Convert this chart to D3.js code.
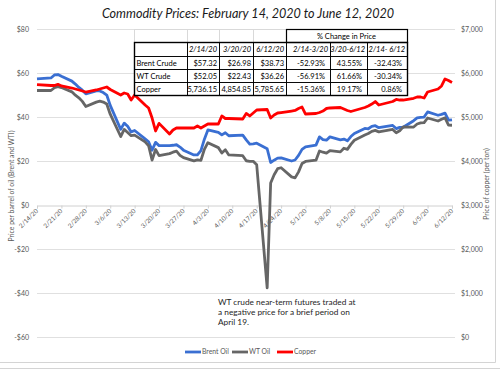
<!DOCTYPE html>
<html>
<head>
<meta charset="utf-8">
<script src="https://cdnjs.cloudflare.com/ajax/libs/d3/7.8.5/d3.min.js"></script>
<style>
  body { margin: 0; background: #fff; }
  svg { display: block; font-family: Lato, "Open Sans", sans-serif; }
</style>
</head>
<body>
<svg></svg>
<script>
// trading days shown on the chart
const dates = [
  "2/14/20","2/18/20","2/19/20","2/20/20","2/21/20","2/24/20","2/25/20","2/26/20","2/27/20","2/28/20",
  "3/2/20","3/3/20","3/4/20","3/5/20","3/6/20","3/9/20","3/10/20","3/11/20","3/12/20","3/13/20",
  "3/16/20","3/17/20","3/18/20","3/19/20","3/20/20","3/23/20","3/24/20","3/25/20","3/26/20","3/27/20",
  "3/30/20","3/31/20","4/1/20","4/2/20","4/3/20","4/6/20","4/7/20","4/8/20","4/9/20",
  "4/13/20","4/14/20","4/15/20","4/16/20","4/17/20","4/20/20","4/21/20","4/22/20","4/23/20","4/24/20",
  "4/27/20","4/28/20","4/29/20","4/30/20","5/1/20","5/4/20","5/5/20","5/6/20","5/7/20","5/8/20",
  "5/11/20","5/12/20","5/13/20","5/14/20","5/15/20","5/18/20","5/19/20","5/20/20","5/21/20","5/22/20",
  "5/26/20","5/27/20","5/28/20","5/29/20","6/1/20","6/2/20","6/3/20","6/4/20","6/5/20",
  "6/8/20","6/9/20","6/10/20","6/11/20","6/12/20"
];

// $ per barrel
const brent = [
  57.32,57.75,59.12,59.31,58.50,56.30,54.95,53.43,52.18,50.52,
  51.90,51.86,51.13,49.99,45.27,34.36,37.22,35.79,33.22,33.85,
  30.05,28.73,24.88,28.47,26.98,27.03,27.15,27.39,26.34,24.93,
  22.76,22.74,24.74,29.94,34.11,33.05,31.87,32.84,31.48,
  31.74,29.60,27.69,27.82,28.08,25.57,19.33,20.37,21.33,21.44,
  19.99,20.46,22.54,25.27,26.44,27.20,30.97,29.72,29.46,30.97,
  29.63,29.98,29.19,31.13,32.50,34.81,34.65,35.75,36.06,35.13,
  36.17,34.74,35.29,35.33,38.32,39.57,39.79,39.99,42.30,
  40.80,41.18,41.73,38.55,38.73
];

const wti = [
  52.05,52.05,53.29,53.78,53.38,51.43,49.90,48.73,47.09,44.76,
  46.75,47.18,46.78,45.90,41.28,31.13,34.36,32.98,31.50,31.73,
  28.70,26.95,20.37,25.22,22.43,23.36,24.01,24.49,22.60,21.51,
  20.09,20.48,20.31,25.32,28.34,26.08,23.63,25.09,22.76,
  22.41,20.11,19.87,19.87,18.27,-37.63,10.01,13.78,16.50,16.94,
  12.78,12.34,15.06,18.84,19.78,20.39,24.56,23.99,23.55,24.74,
  24.14,25.78,25.29,27.56,29.43,31.82,32.50,33.49,33.92,33.25,
  34.35,32.81,33.71,35.49,35.44,36.81,37.29,37.41,39.55,
  38.19,38.94,39.60,36.34,36.26
];

// $ per ton
const copper = [
  5736,5716,5716,5743,5705,5659,5636,5614,5591,5568,
  5614,5636,5659,5682,5625,5500,5545,5523,5386,5500,
  5273,5205,4977,4682,4855,4614,4705,4750,4750,4750,
  4750,4795,4750,4795,4841,4841,5023,4966,4966,
  4955,5080,5023,5091,5159,5170,4977,5045,5091,5102,
  5136,5148,5193,5227,5068,5080,5102,5136,5193,5205,
  5216,5182,5148,5125,5148,5216,5250,5295,5352,5273,
  5352,5398,5386,5386,5425,5455,5455,5432,5568,
  5636,5705,5864,5830,5786
];

const tickDates = [
  "2/14/20","2/21/20","2/28/20","3/6/20","3/13/20","3/20/20","3/27/20","4/3/20","4/10/20",
  "4/17/20","4/24/20","5/1/20","5/8/20","5/15/20","5/22/20","5/29/20","6/5/20","6/12/20"
];
const oilTicks = [-60, -40, -20, 0, 20, 40, 60, 80];
const copperTicks = [0, 1000, 2000, 3000, 4000, 5000, 6000, 7000];

// summary table
const tableTop = ["", "", "", "", "% Change in Price"];
const tableHeader = ["", "2/14/20", "3/20/20", "6/12/20", "2/14-3/20", "3/20-6/12", "2/14- 6/12"];
const tableRows = [
  ["Brent Crude", "$57.32", "$26.98", "$38.73", "-52.93%", "43.55%", "-32.43%"],
  ["WT Crude", "$52.05", "$22.43", "$36.26", "-56.91%", "61.66%", "-30.34%"],
  ["Copper", "5,736.15", "4,854.85", "5,785.65", "-15.36%", "19.17%", "0.86%"]
];

const seriesNames = ["Brent Oil", "WT Oil", "Copper"];
const seriesColors = ["#3a6fd2", "#666666", "#ff0000"];

const annotation = [
  "WT crude near-term futures traded at",
  "a negative price for a brief period on",
  "April 19."
];

const parse = d3.timeParse("%m/%d/%y");
const fmtDate = d3.timeFormat("%-m/%-d/%y");

const svg = d3.select("svg").attr("width", 500).attr("height", 369);

svg.append("rect").attr("width", 500).attr("height", 369).attr("fill", "#fff");

// chart frame
svg.append("path")
  .attr("d", "M495.5,0 V362.5 H0")
  .attr("fill", "none")
  .attr("stroke", "#d4d4d4");
svg.append("line")
  .attr("x1", 0).attr("x2", 500).attr("y1", 368.5).attr("y2", 368.5)
  .attr("stroke", "#d4d4d4");

const x = d3.scaleTime()
  .domain([parse(dates[0]), parse(dates[dates.length - 1])])
  .range([37, 452]);
const yOil = d3.scaleLinear().domain([-60, 80]).range([337, 29]);
const yCopper = d3.scaleLinear().domain([0, 7000]).range([337, 29]);

// gridlines
svg.append("g")
  .selectAll("line")
  .data(oilTicks.filter(d => d !== 0))
  .enter()
  .append("line")
  .attr("x1", 37).attr("x2", 455)
  .attr("y1", d => Math.round(yOil(d)) + 0.5)
  .attr("y2", d => Math.round(yOil(d)) + 0.5)
  .attr("stroke", "#e0e0e0");

// left axis labels
svg.append("g")
  .selectAll("text")
  .data(oilTicks)
  .enter()
  .append("text")
  .attr("x", 29)
  .attr("y", d => yOil(d) + 2.5)
  .attr("text-anchor", "end")
  .attr("font-size", 7)
  .attr("fill", "#595959")
  .text(d => (d < 0 ? "-$" : "$") + Math.abs(d));

// right axis labels
svg.append("g")
  .selectAll("text")
  .data(copperTicks)
  .enter()
  .append("text")
  .attr("x", 461)
  .attr("y", d => yCopper(d) + 2.5)
  .attr("font-size", 7)
  .attr("fill", "#595959")
  .text(d => d3.format("$,")(d));

// x axis on the zero line
const xAxis = svg.append("g")
  .attr("transform", `translate(0, ${Math.round(yOil(0)) + 0.5})`)
  .call(
    d3.axisBottom(x)
      .tickValues(tickDates.map(parse))
      .tickSize(3)
      .tickFormat(fmtDate)
  );
xAxis.select(".domain").attr("stroke", "#d0d0d0");
xAxis.selectAll(".tick line").attr("stroke", "#d0d0d0");
xAxis.selectAll(".tick text")
  .attr("font-family", "Lato, sans-serif")
  .attr("font-size", 6.3)
  .attr("fill", "#595959")
  .attr("text-anchor", "end")
  .attr("dy", 0)
  .attr("y", 0)
  .attr("transform", "translate(1, 6) rotate(-45)");

// axis titles
svg.append("text")
  .attr("transform", "translate(14, 186) rotate(-90)")
  .attr("text-anchor", "middle")
  .attr("font-size", 6.8)
  .attr("fill", "#595959")
  .text("Price per barrel of oil (Brent and WTI)");
svg.append("text")
  .attr("transform", "translate(489, 184) rotate(-90)")
  .attr("text-anchor", "middle")
  .attr("font-size", 6.8)
  .attr("fill", "#595959")
  .text("Price of copper (per ton)");

// lines
const parsedDates = dates.map(parse);
const oilLine = d3.line()
  .x((d, i) => x(parsedDates[i]))
  .y(d => yOil(d));
const copperLine = d3.line()
  .x((d, i) => x(parsedDates[i]))
  .y(d => yCopper(d));

const seriesData = [brent, wti, copper];
seriesData.forEach((s, k) => {
  svg.append("path")
    .datum(s)
    .attr("fill", "none")
    .attr("stroke", seriesColors[k])
    .attr("stroke-width", 2.8)
    .attr("stroke-linejoin", "round")
    .attr("d", k === 2 ? copperLine : oilLine);
});

// title
svg.append("text")
  .attr("x", 248)
  .attr("y", 18)
  .attr("text-anchor", "middle")
  .attr("font-size", 12.6)
  .attr("font-style", "italic")
  .attr("fill", "#1a1a1a")
  .text("Commodity Prices: February 14, 2020 to June 12, 2020");

// TABLE
const colEdges = [134, 187, 219, 253, 286, 330, 367, 407];
const rowEdges = [29, 42, 56, 69, 82, 95];
const table = svg.append("g").attr("font-size", 7.5).attr("fill", "#000");

// white background with light cell grid on the top row
table.append("rect")
  .attr("x", colEdges[0]).attr("y", rowEdges[0])
  .attr("width", colEdges[7] - colEdges[0])
  .attr("height", rowEdges[5] - rowEdges[0])
  .attr("fill", "#fff");
colEdges.slice(0, 5).forEach(cx => {
  table.append("line")
    .attr("x1", cx + 0.5).attr("x2", cx + 0.5)
    .attr("y1", rowEdges[0]).attr("y2", rowEdges[1])
    .attr("stroke", "#d9d9d9");
});
table.append("line")
  .attr("x1", colEdges[0]).attr("x2", colEdges[4])
  .attr("y1", rowEdges[0] + 0.5).attr("y2", rowEdges[0] + 0.5)
  .attr("stroke", "#d9d9d9");

// "% Change in Price" box
table.append("rect")
  .attr("x", colEdges[4] + 0.5).attr("y", rowEdges[0] + 0.5)
  .attr("width", colEdges[7] - colEdges[4])
  .attr("height", rowEdges[1] - rowEdges[0])
  .attr("fill", "none").attr("stroke", "#000").attr("stroke-width", 1.2);
table.append("text")
  .attr("x", (colEdges[4] + colEdges[7]) / 2)
  .attr("y", rowEdges[0] + 9.5)
  .attr("text-anchor", "middle")
  .text(tableTop[4]);

// bordered body
const bodyRows = [tableHeader].concat(tableRows);
bodyRows.forEach((row, r) => {
  const y0 = rowEdges[r + 1];
  const y1 = rowEdges[r + 2];
  row.forEach((cell, c) => {
    const x0 = colEdges[c];
    const x1 = colEdges[c + 1];
    table.append("rect")
      .attr("x", x0 + 0.5).attr("y", y0 + 0.5)
      .attr("width", x1 - x0).attr("height", y1 - y0)
      .attr("fill", "none").attr("stroke", "#000").attr("stroke-width", 0.8);
    if (!cell) return;
    const pad = (r > 0 && c >= 4) ? 5 : 2;
    table.append("text")
      .attr("x", c === 0 ? x0 + 2.5 : x1 - pad)
      .attr("y", y0 + 9.6)
      .attr("text-anchor", c === 0 ? "start" : "end")
      .attr("font-style", r === 0 ? "italic" : "normal")
      .text(cell);
  });
});
table.append("rect")
  .attr("x", colEdges[0] + 0.5).attr("y", rowEdges[1] + 0.5)
  .attr("width", colEdges[7] - colEdges[0])
  .attr("height", rowEdges[5] - rowEdges[1])
  .attr("fill", "none").attr("stroke", "#000").attr("stroke-width", 1.4);

// annotation
svg.append("text")
  .attr("font-size", 8.3)
  .attr("fill", "#262626")
  .selectAll("tspan")
  .data(annotation)
  .enter()
  .append("tspan")
  .attr("x", 218)
  .attr("y", (d, i) => 305 + i * 10.2)
  .text(d => d);

// legend
const legendX = [185, 232, 277];
const legend = svg.append("g")
  .selectAll("g")
  .data(seriesNames)
  .enter()
  .append("g")
  .attr("transform", (d, i) => `translate(${legendX[i]}, 352)`);
legend.append("line")
  .attr("x1", 0).attr("x2", 16)
  .attr("stroke", (d, i) => seriesColors[i])
  .attr("stroke-width", 2.8);
legend.append("text")
  .attr("x", 17)
  .attr("y", 2.4)
  .attr("font-size", 6.8)
  .attr("fill", "#595959")
  .text(d => d);
</script>
</body>
</html>
